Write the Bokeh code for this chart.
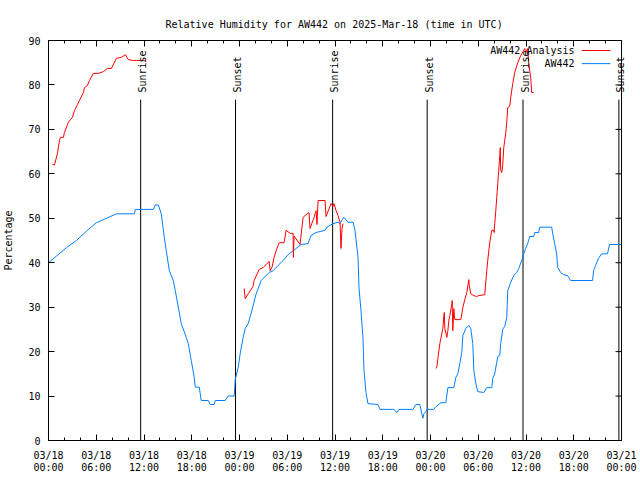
import math
from bokeh.plotting import figure
from bokeh.models import FixedTicker, LinearAxis, Range1d, Label, Span
from bokeh.core.properties import value
from bokeh.embed import file_html
from bokeh.resources import INLINE

# ---- data (hours since 2025-03-18 00:00 UTC, relative humidity %) ----
obs_hours = [0, 1.0, 2.26, 3.51, 5.02, 6.02, 7.28, 8.53, 10.79, 10.91, 13.17, 13.42, 13.8, 14.17,
             14.55, 14.8, 15.18, 15.68, 15.93, 16.31, 16.68, 17.31, 17.56, 17.94, 18.31, 18.44,
             18.94, 19.19, 20.07, 20.32, 20.82, 20.95, 22.2, 22.58, 23.33, 23.46, 23.83, 24.08,
             24.46, 24.71, 25.09, 25.46, 26.09, 26.72, 27.72, 28.22, 28.85, 29.48, 30.1, 31.11,
             31.74, 32.61, 32.99, 33.62, 34.75, 35.0, 35.75, 36.38, 36.63, 37.0, 37.13, 37.63,
             38.26, 38.51, 38.89, 39.01, 39.26, 39.51, 39.64, 39.89, 40.14, 41.39, 41.65, 43.4,
             43.78, 44.03, 45.79, 46.16, 46.66, 46.91, 47.04, 47.16, 47.42, 47.54, 48.42, 48.67,
             49.3, 49.92, 50.18, 50.93, 51.18, 51.43, 51.68, 51.93, 52.06, 52.43, 52.81, 53.06,
             53.31, 53.44, 53.69, 53.94, 54.69, 55.07, 55.7, 55.82, 56.07, 56.32, 56.45, 56.7,
             56.82, 57.07, 57.33, 57.58, 57.7, 58.08, 58.45, 58.83, 59.08, 59.46, 59.71, 59.96,
             60.21, 60.46, 60.96, 61.09, 61.59, 61.72, 63.22, 63.35, 63.6, 63.85, 63.97, 64.35,
             64.72, 65.23, 65.6, 68.36, 68.49, 68.74, 69.11, 69.49, 70.24, 70.49, 72.0]
obs_rh = [40, 41.5, 43.4, 45, 47.5, 49, 50, 51, 51, 52, 52, 53, 53, 51,
          45.7, 42.7, 38.2, 36, 33.7, 30, 26.3, 23.2, 21.8, 18, 14.2, 12,
          12, 9, 9, 8.1, 8.1, 9, 9, 10, 10, 13.7, 16.4, 19.5,
          23.2, 25.2, 26.3, 28.6, 33, 36, 37.8, 38.2, 39.4, 40.5, 41.8, 43.2,
          44.1, 44.3, 46.1, 46.8, 47.3, 48, 48.8, 49.1, 48.8, 50, 50.2, 49.1,
          49.1, 47.3, 41.2, 34.4, 29.3, 23.2, 15.8, 10.8, 8.3, 8.1, 7, 7,
          6.3, 7, 7, 8.1, 8.1, 6, 5, 6, 6.5, 7, 7, 7.6,
          8.5, 8.5, 11.9, 11.9, 14.2, 15, 17.3, 19.8, 23.6, 25.2, 25.9, 25.2,
          21.8, 15.8, 12.8, 11, 10.8, 11.9, 11.9, 14, 15, 17.6, 18.9, 19.1,
          21.8, 25, 25.7, 27.7, 33.7, 35.6, 37.1, 37.8, 38.7, 40.5, 42, 43.2,
          44.3, 45.9, 45.9, 46.8, 46.8, 48, 48, 46.6, 44.3, 42, 39, 37.8,
          37.3, 37.1, 36, 36, 38.2, 39.4, 41, 42, 42, 44.1, 44.1]

ana1_hours = [0.5, 0.75, 1.13, 1.38, 1.5, 1.88, 2.0, 2.5, 2.76, 3.0, 3.26, 3.64, 3.89, 4.39,
              4.52, 4.89, 5.14, 5.64, 6.27, 6.9, 7.4, 7.9, 8.53, 9.16, 9.66, 10.03, 10.66,
              11.04, 11.92, 12.29]
ana1_rh = [62.1, 62, 64.6, 67.5, 68.2, 68.2, 69.3, 71.6, 72.2, 72.7, 74.2, 75.6, 76.5, 78.3,
           79.4, 79.9, 81, 82.6, 82.6, 83, 83.7, 83.7, 86, 86.2, 86.8, 85.7, 85.5,
           85.5, 85.5, 85.3]

ana2_hours = [24.59, 24.71, 25.09, 25.71, 25.84, 26.47, 26.97, 27.72, 27.85, 28.1, 28.35, 28.6,
              28.85, 28.98, 29.6, 29.85, 30.36, 30.73, 30.77, 30.86, 31.61, 31.99, 32.61, 32.74,
              32.86, 33.37, 33.49, 33.62, 33.74, 33.8, 33.87, 34.75, 34.87, 35.5, 35.75, 35.88,
              36.13, 36.38, 36.63, 36.75, 36.88, 37.0]
ana2_rh = [34.2, 31.9, 33, 34.7, 36, 38.5, 38.9, 40.3, 38.2, 39.1, 41.2, 42.7,
           43.9, 44.5, 44.5, 47.3, 46.6, 46.6, 41.2, 46, 44.1, 50.2, 51.2, 51.2,
           47.7, 50.2, 51, 51.7, 48.6, 51.2, 54, 54, 50.4, 53.3, 52.7, 53.3,
           51.7, 50.6, 49.1, 43.2, 47.7, 48.8]

ana3_hours = [48.67, 48.8, 48.92, 49.17, 49.55, 49.67, 49.73, 49.8, 50.05, 50.18, 50.3, 50.43,
              50.68, 50.72, 50.8, 50.93, 51.05, 51.81, 52.06, 52.31, 52.56, 52.81, 52.87, 53.06,
              53.44, 53.81, 54.06, 54.81, 55.07, 55.19, 55.44, 55.7, 55.95, 55.99, 56.07, 56.2,
              56.32, 56.45, 56.57, 56.7, 56.76, 56.82, 56.95, 57.07, 57.2, 57.45, 57.58, 57.7,
              57.95, 58.08, 58.33, 58.58, 58.96, 59.33, 59.71, 59.83, 59.96, 60.21, 60.34, 60.59,
              60.71, 60.96]
ana3_rh = [16.2, 16.6, 18.4, 21.8, 25.2, 28.1, 28.8, 25.2, 23.2, 24.7, 27, 28.1,
           30.8, 31.5, 24.7, 29.7, 27.2, 27.2, 29.9, 31.7, 33.3, 36.2, 34.9, 33,
           32.6, 32.4, 32.6, 32.8, 38.2, 40.5, 44.5, 47.3, 47.3, 46.8, 48.8, 51.7,
           54.7, 57.8, 60.8, 64.1, 65.9, 60.8, 60.3, 61.9, 65.9, 69.1, 71.6, 74.9,
           75.2, 77.2, 80.3, 82.8, 85, 86.6, 87.8, 88.2, 87.3, 88.2, 84.8, 81.7,
           78.3, 78.3]

sun_hours = [11.58, 23.5, 35.7, 47.58, 59.62, 71.67]
sun_labels = ["Sunrise", "Sunset", "Sunrise", "Sunset", "Sunrise", "Sunset"]

x_start, x_end = 0, 72
x_tick_hours = [0, 6, 12, 18, 24, 30, 36, 42, 48, 54, 60, 66, 72]
x_tick_labels = ["03/18\n00:00", "03/18\n06:00", "03/18\n12:00", "03/18\n18:00",
                 "03/19\n00:00", "03/19\n06:00", "03/19\n12:00", "03/19\n18:00",
                 "03/20\n00:00", "03/20\n06:00", "03/20\n12:00", "03/20\n18:00",
                 "03/21\n00:00"]
x_minor_hours = list(range(0, 73, 2))
y_ticks = [0, 10, 20, 30, 40, 50, 60, 70, 80, 90]

series_names = ["AW442 Analysis", "AW442"]
series_colors = ["#ff0000", "#0080ff"]

# ---- style / layout ----
FONT = "DejaVu Sans Mono"
FS = "10px"
W, H = 640, 480
LEFT, RIGHT_EDGE, TOP, BOTTOM = 47, 621, 40, 40   # plot box in pixels
# the frame runs to the canvas edge so the last "Sunset" text is not clipped;
# the data box (0..72 h) still ends at RIGHT_EDGE
frame_end = x_start + (x_end - x_start) * (W - LEFT) / (RIGHT_EDGE - LEFT)
hours_per_px = (x_end - x_start) / (RIGHT_EDGE - LEFT)

p = figure(width=W, height=H, output_backend="svg", toolbar_location=None,
           x_range=Range1d(x_start, frame_end), y_range=Range1d(0, 90),
           min_border_left=LEFT, min_border_right=0, min_border_top=TOP, min_border_bottom=BOTTOM,
           background_fill_color="white", border_fill_color="white")
p.xgrid.visible = False
p.ygrid.visible = False
p.outline_line_color = None

p.title.text = "Relative Humidity for AW442 on 2025-Mar-18 (time in UTC)"
p.title.align = "left"
p.title.offset = 117
p.title.text_font = FONT
p.title.text_font_size = FS
p.title.text_font_style = "normal"
p.title.text_color = "black"
p.title.standoff = 22

def style_axis(ax, labels=True):
    ax.axis_line_color = "black"
    ax.major_tick_line_color = "black"
    ax.minor_tick_line_color = "black"
    ax.major_tick_in = 6
    ax.major_tick_out = 0
    ax.minor_tick_in = 3
    ax.minor_tick_out = 0
    ax.major_label_text_font = FONT
    if labels:
        ax.major_label_text_font_size = FS
        ax.major_label_text_color = "black"
    else:
        # mirror axis: ticks only, labels are not drawn
        ax.major_label_text_font_size = "2px"
        ax.major_label_text_color = None
        ax.major_label_text_alpha = 0
        ax.major_label_standoff = 0

xa = p.xaxis[0]
xa.ticker = FixedTicker(ticks=x_tick_hours, minor_ticks=x_minor_hours)
xa.bounds = (x_start, x_end)
xa.major_label_overrides = {h: lab for h, lab in zip(x_tick_hours, x_tick_labels)}
style_axis(xa)
xa.major_label_standoff = 9
xa.major_label_text_line_height = 1.1

ya = p.yaxis[0]
ya.ticker = FixedTicker(ticks=y_ticks, minor_ticks=[])
style_axis(ya)
ya.major_label_standoff = 8
ya.axis_label = "Percentage"
ya.axis_label_text_font = FONT
ya.axis_label_text_font_size = FS
ya.axis_label_text_font_style = "normal"
ya.axis_label_text_color = "black"
ya.axis_label_standoff = 11

top = LinearAxis(ticker=FixedTicker(ticks=x_tick_hours, minor_ticks=x_minor_hours),
                 bounds=(x_start, x_end))
style_axis(top, labels=False)
p.add_layout(top, "above")

# right border of the box with its inward ticks
p.add_layout(Span(location=x_end, dimension="height", line_color="black", line_width=1))
tick_len = 6 * hours_per_px
p.segment(x0=[x_end - tick_len] * len(y_ticks), y0=y_ticks, x1=[x_end] * len(y_ticks), y1=y_ticks,
          line_color="black", line_width=1)

# sunrise / sunset markers
SUN_LINE_TOP = 76.7
SUN_TEXT_Y = 78.3
p.segment(x0=sun_hours, y0=[0] * len(sun_hours), x1=sun_hours, y1=[SUN_LINE_TOP] * len(sun_hours),
          line_color="black", line_width=1)
for h, lab in zip(sun_hours, sun_labels):
    p.add_layout(Label(x=h, y=SUN_TEXT_Y, text=lab, angle=math.pi / 2,
                       text_align="left", text_baseline="middle", x_offset=2,
                       text_font=FONT, text_font_size=FS, text_color="black"))

# series
p.line(obs_hours, obs_rh, line_color=series_colors[1], line_width=1)
for hs, vs in ((ana1_hours, ana1_rh), (ana2_hours, ana2_rh), (ana3_hours, ana3_rh)):
    p.line(hs, vs, line_color=series_colors[0], line_width=1)

# key (text to the left of the sample, gnuplot style)
KEY_TEXT_X = 66.1
KEY_LINE_X0, KEY_LINE_X1 = 67.0, 70.6
KEY_Y = [87.75, 84.8]
p.text(x=[KEY_TEXT_X] * 2, y=KEY_Y, text=series_names, text_align="right",
       text_baseline="middle", text_font=value(FONT), text_font_size=FS, text_color="black")
p.segment(x0=[KEY_LINE_X0] * 2, y0=KEY_Y, x1=[KEY_LINE_X1] * 2, y1=KEY_Y,
          line_color=series_colors, line_width=1)

open("out.html", "w").write(file_html(p, INLINE))
